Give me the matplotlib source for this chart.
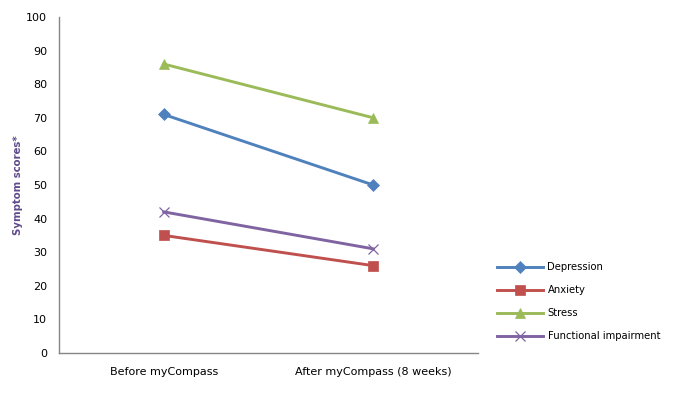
import matplotlib
matplotlib.use("Agg")
import matplotlib.pyplot as plt

categories = ["Before myCompass", "After myCompass (8 weeks)"]
depression = [71, 50]
anxiety = [35, 26]
stress = [86, 70]
functional = [42, 31]
series_names = ["Depression", "Anxiety", "Stress", "Functional impairment"]
yticks = [0, 10, 20, 30, 40, 50, 60, 70, 80, 90, 100]

fig = plt.figure(figsize=(6.86, 3.99), dpi=100)
ax = fig.add_axes([59/686, 1-353/399, (478-59)/686, (353-17)/399])

x = list(range(len(categories)))
styles = [
    (depression, "#4F81BD", "D", 6),
    (anxiety, "#C0504D", "s", 7),
    (stress, "#9BBB59", "^", 7.5),
    (functional, "#8064A2", "x", 7.5),
]
handles = []
for (vals, col, mk, ms), name in zip(styles, series_names):
    h, = ax.plot(x, vals, color=col, lw=2.1, marker=mk, markersize=ms,
                 markeredgewidth=0.9 if mk == "x" else 0.5, markerfacecolor=col,
                 markeredgecolor=col, label=name)
    handles.append(h)

ax.set_xlim(-0.5, 1.5)
ax.set_ylim(0, 100)
ax.set_yticks(yticks)
ax.set_xticks(x)
ax.set_xticklabels(categories)
ax.tick_params(axis="both", length=0, labelsize=8, colors="black")
ax.tick_params(axis="y", pad=8.5)
ax.tick_params(axis="x", pad=10)
for s in ["top", "right"]:
    ax.spines[s].set_visible(False)
for s in ["left", "bottom"]:
    ax.spines[s].set_color("#868686")
    ax.spines[s].set_linewidth(1)
ax.set_ylabel("Symptom scores*", fontsize=7.3, fontweight="bold", color="#5F4B8B")
ax.yaxis.set_label_coords(-0.087, 0.5)

fig.legend(handles=handles, loc="upper left", bbox_to_anchor=(493/686, 1-258/399),
           frameon=False, fontsize=7.2, handlelength=4.6, labelspacing=1.3,
           handletextpad=0.45, borderaxespad=0)

fig.savefig("out.png", dpi=100)
